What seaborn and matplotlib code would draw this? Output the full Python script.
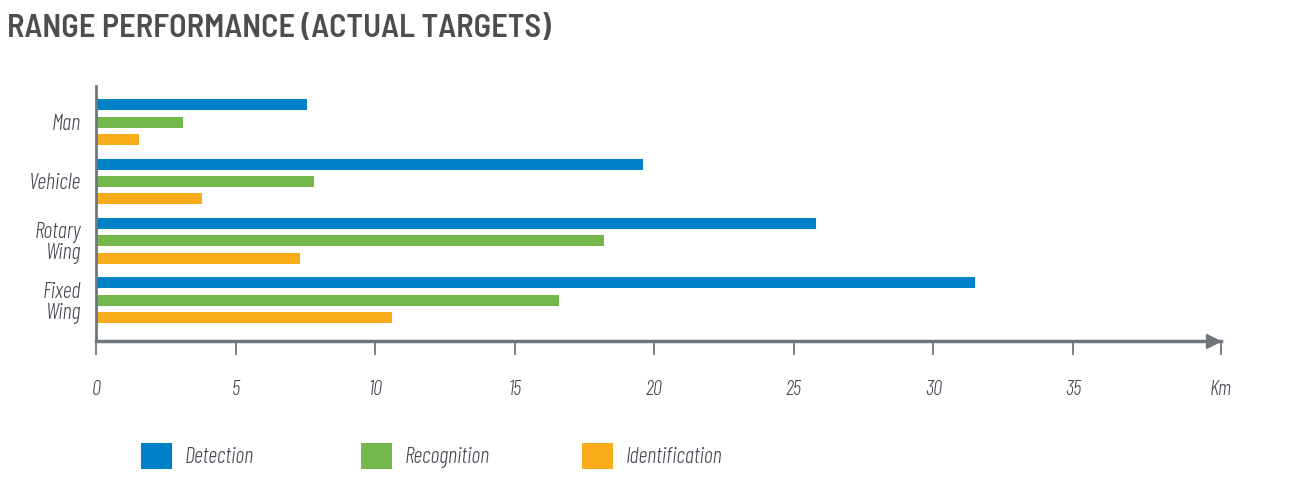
import matplotlib
matplotlib.use("Agg")
import matplotlib.pyplot as plt
import seaborn as sns
import pandas as pd
from matplotlib.patches import Patch

categories = ["Man", "Vehicle", "Rotary\nWing", "Fixed\nWing"]
series_names = ["Detection", "Recognition", "Identification"]
detection = [7.55, 19.6, 25.8, 31.5]
recognition = [3.1, 7.8, 18.2, 16.6]
identification = [1.55, 3.8, 7.3, 10.6]
tick_values = [0, 5, 10, 15, 20, 25, 30, 35, 40.3]
tick_labels = ["0", "5", "10", "15", "20", "25", "30", "35", "Km"]
colors = ["#0080C6", "#74B74A", "#F9AC1A"]

sns.set_theme(style="white")
body_font = ["Barlow Condensed", "DejaVu Sans"]
title_font = ["Barlow Semi Condensed", "DejaVu Sans"]
plt.rcParams["font.family"] = body_font

rows = []
for name, vals in zip(series_names, [detection, recognition, identification]):
    for c, v in zip(categories, vals):
        rows.append({"Target": c, "Type": name, "Range": v})
df = pd.DataFrame(rows)

fig = plt.figure(figsize=(12.96, 4.99), dpi=100)
ax = fig.add_axes([96 / 1296, 1 - 341 / 499, 1125 / 1296, (341 - 86) / 499])

sns.barplot(data=df, y="Target", x="Range", hue="Type", hue_order=series_names,
            order=categories, palette=colors, saturation=1, orient="h",
            width=0.88, gap=0.37, linewidth=0, legend=False, ax=ax)

gray = "#6E767D"
txt = "#464652"
ax.set_xlim(0, 40.3)
ax.set_ylim(3.69, -0.61)
ax.set_xlabel("")
ax.set_ylabel("")
for s in ["top", "right"]:
    ax.spines[s].set_visible(False)
ax.spines["left"].set_color(gray)
ax.spines["left"].set_linewidth(2)
ax.spines["bottom"].set_color(gray)
ax.spines["bottom"].set_linewidth(2.5)
ax.set_xticks(tick_values)
ax.set_xticklabels(tick_labels)
ax.tick_params(axis="x", direction="out", length=10, width=1.3, color=gray, pad=18,
               labelsize=15, labelcolor=txt, bottom=True)
ax.tick_params(axis="y", length=0, pad=11, labelsize=16, labelcolor=txt)
for lab in ax.get_xticklabels() + ax.get_yticklabels():
    lab.set_fontstyle("italic")
    lab.set_fontweight(300)
for lab in ax.get_yticklabels():
    lab.set_linespacing(1.0)
# arrowhead at end of x axis
ax.plot([40.0], [3.69], marker=">", markersize=10, color=gray, clip_on=False,
        transform=ax.transData)

fig.text(7 / 1296, 1 - 28 / 499, "RANGE PERFORMANCE (ACTUAL TARGETS)", fontsize=23.3,
         fontweight=600, family=title_font, color="#4D4D4D", va="center", ha="left")

xs = [141, 361, 582]
for name, col, x in zip(series_names, colors, xs):
    fig.legend(handles=[Patch(facecolor=col, edgecolor="none", label=name)],
               loc="center left", bbox_to_anchor=(x / 1296, 1 - 456 / 499),
               frameon=False, borderaxespad=0, borderpad=0,
               handlelength=1.4, handleheight=1.4, handletextpad=0.55,
               prop={"size": 16, "style": "italic", "weight": 300, "family": body_font},
               labelcolor=txt)

fig.savefig("out.png", dpi=100)
